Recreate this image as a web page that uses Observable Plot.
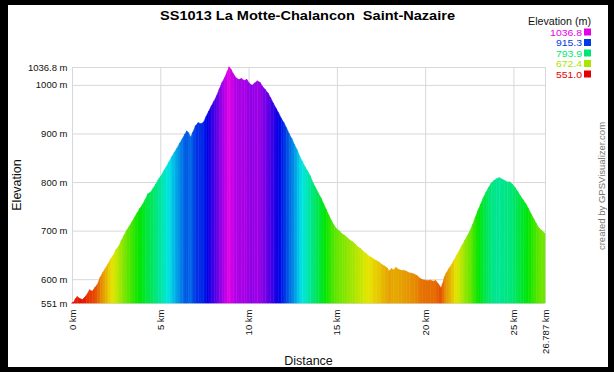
<!DOCTYPE html>
<html><head><meta charset="utf-8">
<script src="https://cdn.jsdelivr.net/npm/d3@7"></script>
<script src="https://cdn.jsdelivr.net/npm/@observablehq/plot@0.6"></script>
<style>
html,body{margin:0;padding:0;background:#000;}
body{width:614px;height:372px;overflow:hidden;position:relative;}
#card{position:absolute;left:8px;top:5px;width:600px;height:362px;background:#fff;overflow:hidden;}
#card svg{position:absolute;left:0;top:0;}
</style></head>
<body><div id="card"></div>
<script>
const title = "SS1013 La Motte-Chalancon  Saint-Nazaire";
const xTitle = "Distance";
const yTitle = "Elevation";
const legendTitle = "Elevation (m)";
const credit = "created by GPSVisualizer.com";

const xTicks = [0, 5, 10, 15, 20, 25, 26.787];
const yTicks = [551, 600, 700, 800, 900, 1000, 1036.8];
const legendValues = [1036.8, 915.3, 793.9, 672.4, 551.0];

const distKm = [0,0.1,0.2,0.3,0.45,0.6,0.8,1.0,1.15,1.3,1.45,1.6,1.75,1.9,2.05,2.2,2.35,2.5,2.65,2.8,2.95,3.1,3.25,3.4,3.55,3.7,3.85,4.0,4.15,4.3,4.45,4.6,4.75,4.9,5.05,5.2,5.35,5.5,5.65,5.8,5.95,6.1,6.25,6.4,6.5,6.6,6.72,6.85,7.0,7.15,7.3,7.45,7.6,7.75,7.9,8.05,8.2,8.35,8.5,8.65,8.8,8.9,9.0,9.15,9.3,9.45,9.6,9.75,9.9,10.05,10.2,10.35,10.5,10.65,10.8,10.95,11.1,11.25,11.4,11.55,11.7,11.85,12.0,12.15,12.3,12.45,12.6,12.75,12.9,13.05,13.2,13.35,13.5,13.65,13.8,13.95,14.1,14.25,14.4,14.55,14.7,14.85,15.0,15.15,15.3,15.45,15.6,15.75,15.9,16.05,16.2,16.35,16.5,16.65,16.8,16.95,17.1,17.25,17.4,17.55,17.7,17.85,17.95,18.1,18.2,18.35,18.5,18.65,18.8,18.95,19.1,19.25,19.4,19.55,19.7,19.85,20.0,20.15,20.3,20.45,20.6,20.75,20.9,21.0,21.1,21.2,21.35,21.5,21.65,21.8,21.95,22.1,22.25,22.4,22.55,22.7,22.85,23.0,23.15,23.3,23.45,23.6,23.75,23.9,24.05,24.2,24.35,24.5,24.65,24.8,24.95,25.1,25.25,25.4,25.55,25.7,25.85,26.0,26.15,26.3,26.45,26.6,26.787];
const elevM = [551,553,560,564,560,558,566,578,575,583,590,604,614,623,632,642,650,661,668,680,690,701,709,718,728,737,746,754,764,776,779,787,796,806,813,823,832,842,852,861,870,880,889,899,905,901,892,903,916,922,920,923,935,946,957,967,978,992,1005,1015,1028,1036.8,1032,1022,1014,1011,1013,1009,1011,1003,999,1004,1008,1005,996,990,983,973,962,952,942,931,922,911,899,889,877,866,852,842,831,822,812,798,788,777,767,755,743,731,720,710,703,699,693,690,685,680,677,672,666,663,657,653,648,645,641,638,635,630,627,623,617,622,619,624,620,618,618,616,613,612,610,607,602,599,598,597,598,596,597,590,582,592,605,613,622,630,640,650,660,670,680,690,700,713,728,742,755,768,779,789,798,803,807,809,806,803,800,800,795,788,780,771,763,755,745,734,724,714,705,700,694];

const yMin = 551, yMax = 1036.8;
const hueColor = t => d3.hsl(300 * Math.max(0, Math.min(1, t)), 1, 0.45).toString();

// one small area per pair of consecutive samples, coloured by its mean elevation
const segments = [];
for (let i = 0; i < distKm.length - 1; i++) {
  const c = (elevM[i] + elevM[i + 1]) / 2;
  segments.push({seg: i, d: distKm[i], e: elevM[i], c});
  segments.push({seg: i, d: distKm[i + 1], e: elevM[i + 1], c});
}

const plot = Plot.plot({
  width: 600, height: 362,
  marginLeft: 64, marginRight: 63, marginTop: 62, marginBottom: 64,
  style: {fontFamily: "'Liberation Sans', Arial, sans-serif", fontSize: "9.5px", background: "transparent", color: "#111"},
  x: {domain: [0, 26.787], ticks: xTicks, tickFormat: d => `${d} km`, tickRotate: -90, tickSize: 0, tickPadding: 6, label: null},
  y: {domain: [yMin, yMax], ticks: yTicks, tickFormat: d => `${d} m`, tickSize: 0, tickPadding: 5, label: null},
  color: {type: "linear", domain: [yMin, yMax], interpolate: hueColor},
  marks: [
    Plot.ruleX(xTicks, {stroke: "#d8d8d8"}),
    Plot.ruleY(yTicks, {stroke: "#d8d8d8"}),
    Plot.areaY(segments, {x: "d", y1: yMin, y2: "e", z: "seg", fill: "c", stroke: "c", strokeWidth: 0.6})
  ]
});
document.getElementById("card").appendChild(plot);

let colorOf = v => hueColor((v - yMin) / (yMax - yMin));
try { const s = plot.scale("color"); if (s && typeof s.apply === "function") colorOf = s.apply; } catch (e) {}

const ov = d3.select("#card").append("svg")
  .attr("width", 600).attr("height", 362)
  .style("font-family", "'Liberation Sans', Arial, sans-serif");

ov.append("text").attr("x", 299.5).attr("y", 15).attr("text-anchor", "middle")
  .attr("font-weight", "bold").attr("font-size", 13)
  .attr("textLength", 295).attr("lengthAdjust", "spacingAndGlyphs")
  .style("white-space", "pre").attr("xml:space", "preserve").text(title);

ov.append("text").attr("x", 583).attr("y", 19.5).attr("text-anchor", "end")
  .attr("font-size", 10).attr("textLength", 63).attr("lengthAdjust", "spacingAndGlyphs")
  .attr("fill", "#111").text(legendTitle);

legendValues.forEach((v, i) => {
  const y = 30.5 + i * 10.5;
  ov.append("text").attr("transform", `translate(574,${y}) scale(1.1,1)`)
    .attr("text-anchor", "end").attr("font-size", 9.5).attr("fill", colorOf(v))
    .text(v.toFixed(1));
  ov.append("rect").attr("x", 576).attr("y", y - 7).attr("width", 7).attr("height", 7)
    .attr("fill", colorOf(v));
});

ov.append("text").attr("transform", "translate(13,180) rotate(-90)")
  .attr("text-anchor", "middle").attr("font-size", 12.5).attr("fill", "#111").text(yTitle);
ov.append("text").attr("x", 300.5).attr("y", 360).attr("text-anchor", "middle")
  .attr("font-size", 12.5).attr("fill", "#111").text(xTitle);
ov.append("text").attr("transform", "translate(597,181) rotate(-90)")
  .attr("text-anchor", "middle").attr("font-size", 9.5).attr("fill", "#777").text(credit);
</script>
</body></html>
